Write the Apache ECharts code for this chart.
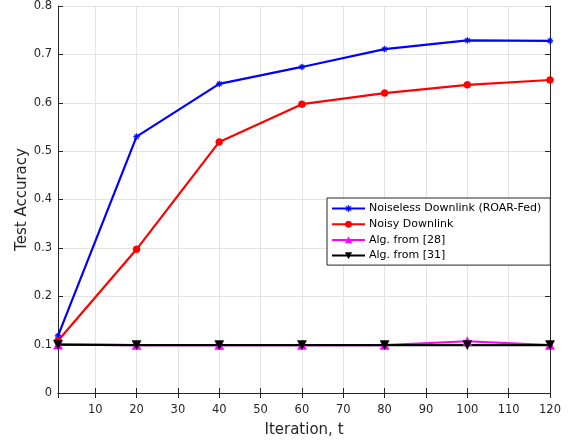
<!DOCTYPE html>
<html>
<head>
<meta charset="utf-8">
<script src="https://cdn.jsdelivr.net/npm/echarts@6/dist/echarts.min.js"></script>
<style>
html,body{margin:0;padding:0;background:#fff;}
#chart{width:574px;height:443px;}
</style>
</head>
<body>
<div id="chart"></div>
<script>
const iterations = [1, 20, 40, 60, 80, 100, 120];
const noiseless = [0.118, 0.530, 0.639, 0.674, 0.711, 0.729, 0.728];
const noisy = [0.108, 0.297, 0.519, 0.597, 0.620, 0.637, 0.647];
const alg28 = [0.100, 0.099, 0.099, 0.099, 0.099, 0.107, 0.099];
const alg31 = [0.100, 0.099, 0.099, 0.099, 0.099, 0.099, 0.099];
const seriesNames = ['Noiseless Downlink (ROAR-Fed)', 'Noisy Downlink', 'Alg. from [28]', 'Alg. from [31]'];

const FONT = 'DejaVu Sans, sans-serif';
const AX = '#262626';
const asterisk = 'path://M-0.6,-5 L0.6,-5 L0.6,5 L-0.6,5 Z M-5,-0.6 L5,-0.6 L5,0.6 L-5,0.6 Z M-3.9,-3.1 L-3.1,-3.9 L3.9,3.1 L3.1,3.9 Z M3.1,-3.9 L3.9,-3.1 L-3.1,3.9 L-3.9,3.1 Z';

function pairs(ys){ return iterations.map((x,i)=>[x, ys[i]]); }

function mk(name, data, color, symbol, size, rotate){
  return {
    name: name, type: 'line', data: pairs(data),
    symbol: symbol, symbolSize: size, symbolRotate: rotate || 0,
    showSymbol: true, clip: false,
    lineStyle: {color: color, width: 2.2},
    itemStyle: {color: color, borderColor: color, borderWidth: 0.5},
    emphasis: {disabled: true},
    z: 3
  };
}

const chart = echarts.init(document.getElementById('chart'), null, {renderer: 'canvas'});
const baseX = {
  type: 'value', min: 1, max: 120, splitNumber: 12,
  axisLine: {show: true, lineStyle: {color: AX, width: 1}},
  axisTick: {show: true, inside: true, length: 5, lineStyle: {color: AX}},
};
const baseY = {
  type: 'value', min: 0, max: 0.8, interval: 0.1,
  axisLine: {show: true, lineStyle: {color: AX, width: 1}},
  axisTick: {show: true, inside: true, length: 5, lineStyle: {color: AX}},
};
chart.setOption({
  animation: false,
  backgroundColor: '#ffffff',
  grid: {left: 58, right: 24, top: 5, bottom: 50, containLabel: false},
  xAxis: [
    Object.assign({}, baseX, {
      position: 'bottom',
      name: 'Iteration, t', nameLocation: 'middle', nameGap: 30,
      nameTextStyle: {fontFamily: FONT, fontSize: 15, color: AX},
      axisLabel: {show: true, showMinLabel: false, margin: 11, fontFamily: FONT, fontSize: 11.5, color: AX},
      splitLine: {show: true, lineStyle: {color: '#e3e3e3', width: 1}}
    }),
    Object.assign({}, baseX, {
      position: 'top',
      axisLabel: {show: false},
      splitLine: {show: false}
    })
  ],
  yAxis: [
    Object.assign({}, baseY, {
      position: 'left',
      name: 'Test Accuracy', nameLocation: 'middle', nameGap: 28,
      nameMoveOverlap: false,
      nameTextStyle: {fontFamily: FONT, fontSize: 15, color: AX},
      axisLabel: {show: true, margin: 6, fontFamily: FONT, fontSize: 11.5, color: AX},
      splitLine: {show: true, lineStyle: {color: '#e3e3e3', width: 1}}
    }),
    Object.assign({}, baseY, {
      position: 'right',
      axisLabel: {show: false},
      splitLine: {show: false}
    })
  ],
  legend: {
    orient: 'vertical',
    left: 327, top: 198,
    padding: [5, 9, 4, 4],
    itemGap: 4.7,
    itemWidth: 33, itemHeight: 8,
    backgroundColor: '#ffffff',
    borderColor: AX, borderWidth: 1,
    itemStyle: {borderWidth: 0.5},
    textStyle: {fontFamily: FONT, fontSize: 11, color: '#000', padding: [0, 0, 0, -1]},
    data: seriesNames
  },
  series: [
    mk(seriesNames[0], noiseless, '#0000ff', asterisk, 6),
    mk(seriesNames[1], noisy, '#ff0000', 'circle', 7),
    mk(seriesNames[2], alg28, '#ff00ff', 'triangle', 9),
    mk(seriesNames[3], alg31, '#000000', 'triangle', 9, 180)
  ]
});
</script>
</body>
</html>
